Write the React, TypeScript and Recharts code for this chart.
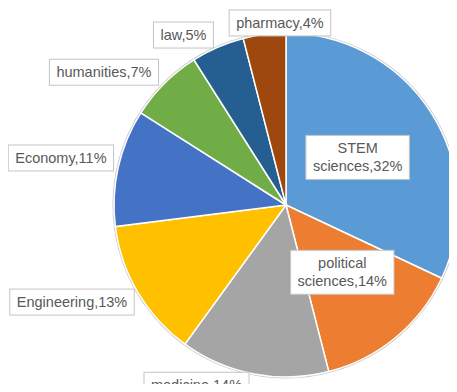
import { PieChart, Pie, Cell } from 'recharts';

const FIELDS = ['STEM sciences', 'political sciences', 'medicine', 'Engineering', 'Economy', 'humanities', 'law', 'pharmacy'];
const SHARES = [32, 14, 14, 13, 11, 7, 5, 4];
const COLORS = ['#5B9BD5', '#ED7D31', '#A5A5A5', '#FFC000', '#4472C4', '#70AD47', '#255E91', '#9E480E'];

// where each label box sits: fraction of radius along the slice's mid angle, plus an angle nudge
const LABEL_LAYOUT = [
  { k: 0.5, dA: 1.2, wrap: true },
  { k: 0.51, dA: 0.3, wrap: true },
  { k: 1.17, dA: -15.6, wrap: false },
  { k: 1.366, dA: -6.2, wrap: false },
  { k: 1.337, dA: 0.8, wrap: false },
  { k: 1.31, dA: 8.9, wrap: false },
  { k: 1.154, dA: 7.7, wrap: false },
  { k: 1.059, dA: -5.3, wrap: false },
];

const FONT = "14.5px 'Liberation Sans', Arial, sans-serif";
const TEXT = '#595959';
const RAD = Math.PI / 180;

let ctx: CanvasRenderingContext2D | null = null;
const measure = (s: string) => {
  if (!ctx) ctx = document.createElement('canvas').getContext('2d');
  if (!ctx) return s.length * 7.5;
  ctx.font = FONT;
  return ctx.measureText(s).width;
};

const data = FIELDS.map((name, i) => ({ name, value: SHARES[i] }));

const BoxLabel = (props: any) => {
  const { cx, cy, midAngle, outerRadius, index, name, value } = props;
  const lay = LABEL_LAYOUT[index];
  const ang = (midAngle + lay.dA) * RAD;
  const x = cx + outerRadius * lay.k * Math.cos(-ang);
  const y = cy + outerRadius * lay.k * Math.sin(-ang);
  let lines: string[];
  if (lay.wrap) {
    const sp = name.indexOf(' ');
    lines = [name.slice(0, sp), `${name.slice(sp + 1)},${value}%`];
  } else {
    lines = [`${name},${value}%`];
  }
  const lh = 18;
  const w = Math.max(...lines.map(measure)) + 14;
  const h = lines.length * lh + 8;
  return (
    <g>
      <rect x={x - w / 2} y={y - h / 2} width={w} height={h} fill="#fff" stroke="#c4c4c4" strokeWidth={1} />
      {lines.map((ln, j) => (
        <text
          key={j}
          x={x}
          y={y - ((lines.length - 1) * lh) / 2 + j * lh}
          textAnchor="middle"
          dominantBaseline="central"
          fill={TEXT}
          style={{ font: FONT }}
        >
          {ln}
        </text>
      ))}
    </g>
  );
};

export default function App() {
  return (
    <div style={{ margin: -8, position: 'relative', width: 457, height: 392, background: '#fff', overflow: 'hidden' }}>
      <div style={{ position: 'absolute', left: 0, top: 0, width: 457, height: 2, background: '#2B3A8C', zIndex: 2 }} />
      <PieChart width={457} height={392} margin={{ top: 0, right: 0, bottom: 0, left: 0 }}>
        <Pie
          data={[{ name: 'rim', value: 1 }]}
          dataKey="value"
          cx={286}
          cy={205}
          outerRadius={173.5}
          fill="#C8C8C8"
          stroke="none"
          isAnimationActive={false}
        />
        <Pie
          data={data}
          dataKey="value"
          nameKey="name"
          cx={286}
          cy={205}
          outerRadius={172}
          startAngle={90}
          endAngle={-270}
          stroke="#fff"
          strokeWidth={1.5}
          label={BoxLabel}
          labelLine={false}
          isAnimationActive={false}
        >
          {data.map((d, i) => (
            <Cell key={d.name} fill={COLORS[i]} />
          ))}
        </Pie>
      </PieChart>
    </div>
  );
}
